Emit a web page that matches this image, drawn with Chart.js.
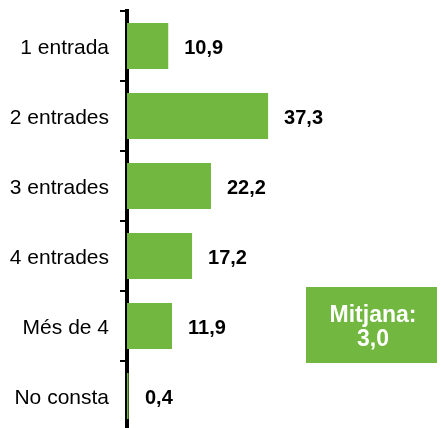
<!DOCTYPE html>
<html>
<head>
<meta charset="utf-8">
<script src="https://cdn.jsdelivr.net/npm/chart.js@4"></script>
<style>
  html, body { margin: 0; padding: 0; background: #fff; overflow: hidden; }
  canvas { display: block; }
</style>
</head>
<body>
<canvas id="chart" width="441" height="431"></canvas>
<script>
const categories = ["1 entrada", "2 entrades", "3 entrades", "4 entrades", "Més de 4", "No consta"];
const percentages = [10.9, 37.3, 22.2, 17.2, 11.9, 0.4];
const meanLabel = "Mitjana:";
const meanValue = 3.0;

const green = "#72B73F";
const fmt = v => v.toFixed(1).replace(".", ",");

// value labels at the end of each bar
const valueLabels = {
  id: "valueLabels",
  afterDatasetsDraw(chart) {
    const ctx = chart.ctx;
    const meta = chart.getDatasetMeta(0);
    ctx.save();
    ctx.font = "bold 20px 'Liberation Sans', Arial, sans-serif";
    ctx.fillStyle = "#000";
    ctx.textBaseline = "middle";
    ctx.textAlign = "left";
    meta.data.forEach((bar, i) => {
      ctx.fillText(fmt(percentages[i]), Math.max(bar.x, 129) + 16, bar.y + 2);
    });
    ctx.restore();
  }
};

// green box with the mean
const meanBox = {
  id: "meanBox",
  afterDraw(chart) {
    const ctx = chart.ctx;
    ctx.save();
    ctx.fillStyle = green;
    ctx.fillRect(306, 287, 131, 76);
    ctx.fillStyle = "#fff";
    ctx.font = "bold 23px 'Liberation Sans', Arial, sans-serif";
    ctx.textAlign = "center";
    ctx.textBaseline = "alphabetic";
    ctx.fillText(meanLabel, 373, 322);
    ctx.fillText(fmt(meanValue), 373, 346);
    ctx.restore();
  }
};

new Chart(document.getElementById("chart"), {
  type: "bar",
  data: {
    labels: categories,
    datasets: [{
      data: percentages,
      backgroundColor: green,
      borderWidth: 0,
      barPercentage: 0.657,
      categoryPercentage: 1
    }]
  },
  options: {
    indexAxis: "y",
    responsive: false,
    animation: false,
    layout: { padding: { top: 11, bottom: 0, left: 0, right: 0 } },
    plugins: { legend: { display: false }, tooltip: { enabled: false } },
    scales: {
      x: { display: false, min: 0, max: 83 },
      y: {
        z: 1,
        afterFit(scale) {
          scale.width = 127;
          scale.paddingTop = 0;
          scale.paddingBottom = 0;
        },
        grid: {
          offset: true,
          drawOnChartArea: false,
          drawTicks: true,
          tickLength: 7,
          color: "#000",
          lineWidth: 2
        },
        border: { display: true, color: "#000", width: 4 },
        ticks: {
          color: "#000",
          padding: 11,
          labelOffset: 2,
          font: { family: "'Liberation Sans', Arial, sans-serif", size: 21 }
        }
      }
    }
  },
  plugins: [valueLabels, meanBox]
});
</script>
</body>
</html>
